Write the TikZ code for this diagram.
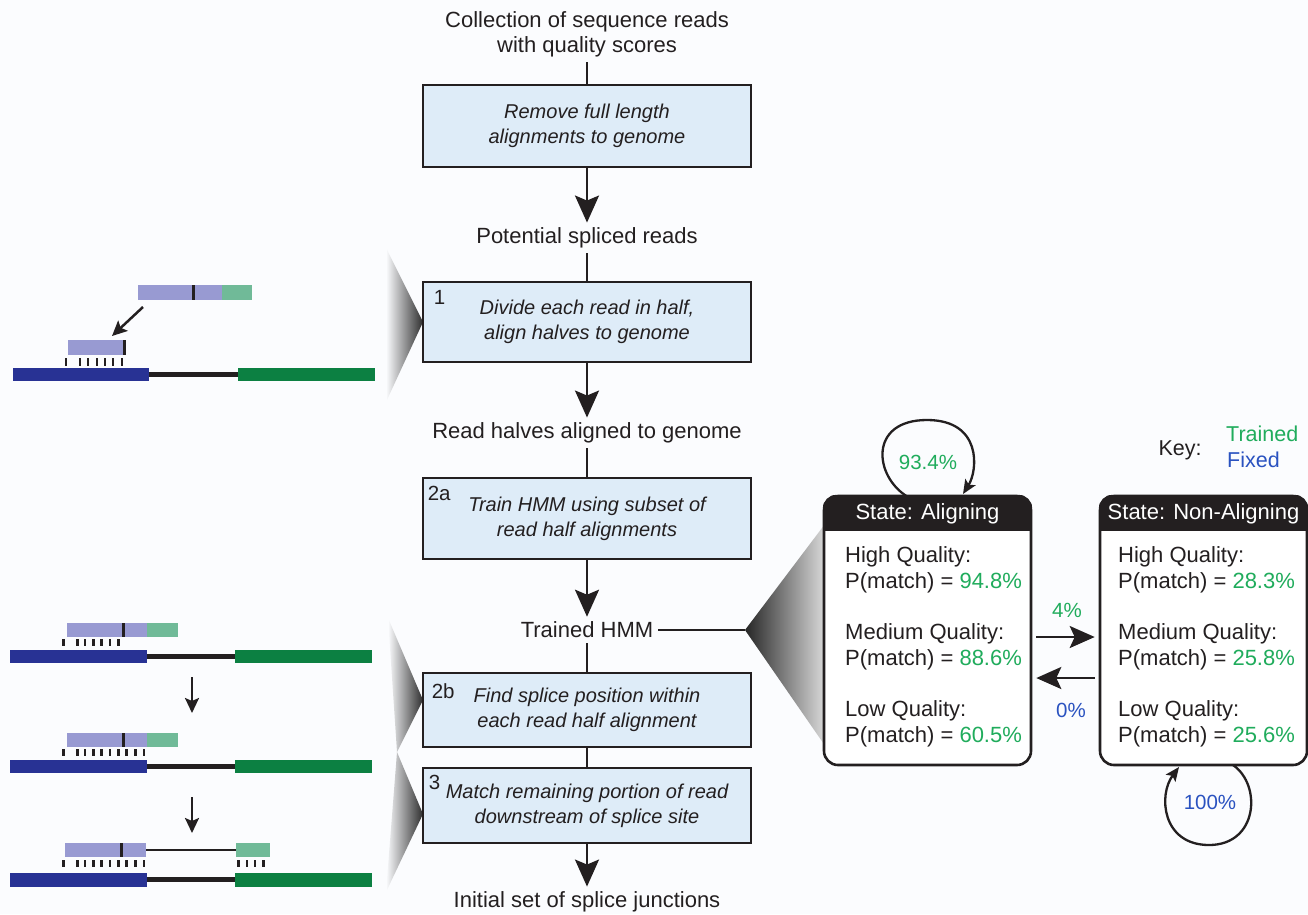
\documentclass[tikz,border=0pt]{standalone}
\usepackage{fontspec}
\setmainfont{Liberation Sans}
\usetikzlibrary{arrows.meta,calc}
\definecolor{bg}{RGB}{251,252,254}
\definecolor{ink}{RGB}{35,31,32}
\definecolor{boxfill}{RGB}{222,236,248}
\definecolor{trained}{RGB}{32,172,92}
\definecolor{fixed}{RGB}{42,82,192}
\definecolor{lilac}{RGB}{152,154,210}
\definecolor{tealread}{RGB}{112,186,152}
\definecolor{gblue}{RGB}{40,50,148}
\definecolor{ggreen}{RGB}{12,128,66}
\begin{document}
\begin{tikzpicture}[x=1pt,y=-1pt,
  every node/.style={text=ink},
  flowtxt/.style={font=\fontsize{22}{25}\selectfont, align=center, inner sep=5pt},
  stepbox/.style={draw=ink, line width=2.8pt, fill=boxfill, minimum width=328pt, align=center, font=\fontsize{20}{25}\selectfont\itshape, inner sep=0pt},
  numlbl/.style={font=\fontsize{20.5}{21}\selectfont, inner sep=0pt, anchor=north west},
  conn/.style={draw=ink, line width=2.5pt},
  arr/.style={conn, -{Stealth[length=27pt,width=24pt,inset=5pt]}},
  tarr/.style={conn, -{Stealth[length=25pt,width=22pt,inset=5pt]}},
  looparr/.style={conn, line width=2.3pt, -{Stealth[length=14pt,width=12pt,inset=3pt]}},
  smallarr/.style={conn, -{Stealth[length=15pt,width=14pt,inset=3pt]}},
  hmmbox/.style={draw=ink, line width=2.6pt, rounded corners=14pt, minimum width=207pt, minimum height=269pt, fill=white, inner sep=0pt},
  hdr/.style={text=white, font=\fontsize{22}{25}\selectfont, inner sep=0pt},
  hmmtxt/.style={font=\fontsize{22}{25.5}\selectfont, align=left, inner sep=0pt, anchor=west},
  pct/.style={font=\fontsize{20.5}{24}\selectfont, inner sep=0pt},
  keytxt/.style={font=\fontsize{21.5}{24}\selectfont, inner sep=0pt}
]
\fill[bg] (0,0) rectangle (1308,914);
\useasboundingbox (0,0) rectangle (1308,914);

% ---------- gray wedges ----------
\shade[left color=bg, right color=black!82] (423,322) -- (386,248) -- (386,402) -- cycle;
\shade[left color=bg, right color=black!82] (423,700) -- (388,618) -- (397,752) -- cycle;
\shade[left color=bg, right color=black!82] (423,814) -- (397,752) -- (386,892) -- cycle;
\coordinate (wtip) at (745,630);
\shade[left color=black!85, right color=white!88!black] (wtip) -- (828,520) -- (828,750) -- cycle;

% ---------- flow chart ----------
\node[flowtxt] (t0) at (587,34.5) {Collection of sequence reads\\with quality scores};
\node[stepbox, minimum height=82pt] (b0) at (587,126) {Remove full length\\alignments to genome};
\node[flowtxt] (t1) at (587,238) {Potential spliced reads};
\node[stepbox, minimum height=80pt] (b1) at (587,322) {Divide each read in half,\\align halves to genome};
\node[flowtxt] (t2) at (587,433) {Read halves aligned to genome};
\node[stepbox, minimum height=81pt] (b2a) at (587,518.5) {Train HMM using subset of\\read half alignments};
\node[flowtxt] (t3) at (587,630) {Trained HMM};
\node[stepbox, minimum height=74pt] (b2b) at (587,710) {Find splice position within\\each read half alignment};
\node[stepbox, minimum height=75pt] (b3) at (587,805.5) {Match remaining portion of read\\downstream of splice site};
\node[flowtxt] (t4) at (587,902) {Initial set of splice junctions};

\node[numlbl] (n1) at ($(b1.north west)+(12,10)$) {1};
\node[numlbl] (n2a) at ($(b2a.north west)+(6,9)$) {2a};
\node[numlbl] (n2b) at ($(b2b.north west)+(10,12)$) {2b};
\node[numlbl] (n3) at ($(b3.north west)+(7,8)$) {3};

\draw[conn] (t0) -- (b0);
\draw[arr] (b0) -- (t1);
\draw[conn] (t1) -- (b1);
\draw[arr] (b1) -- (t2);
\draw[conn] (t2) -- (b2a);
\draw[arr] (b2a) -- (t3);
\draw[conn] (t3) -- (b2b);
\draw[conn] (b2b) -- (b3);
\draw[arr] (b3) -- (t4);
\draw[conn] (t3) -- (wtip);

% ---------- HMM states ----------
\node[hmmbox] (al) at (927.5,630.5) {};
\node[hmmbox] (na) at (1203.5,630.5) {};
\begin{scope}
  \clip[rounded corners=14pt] (al.north west) rectangle (al.south east);
  \fill[ink] (al.north west) rectangle ($(al.north east)+(0,36)$);
\end{scope}
\begin{scope}
  \clip[rounded corners=14pt] (na.north west) rectangle (na.south east);
  \fill[ink] (na.north west) rectangle ($(na.north east)+(0,36)$);
\end{scope}
\node[hdr] (alh) at ($(al.north)+(0,19)$) {State: Aligning};
\node[hdr] (nah) at ($(na.north)+(0,19)$) {State: Non-Aligning};

\node[hmmtxt] (alc) at (845,647) {High Quality:\\P(match) = \textcolor{trained}{94.8\%}\\[26pt]Medium Quality:\\P(match) = \textcolor{trained}{88.6\%}\\[26pt]Low Quality:\\P(match) = \textcolor{trained}{60.5\%}};
\node[hmmtxt] (nac) at (1118,647) {High Quality:\\P(match) = \textcolor{trained}{28.3\%}\\[26pt]Medium Quality:\\P(match) = \textcolor{trained}{25.8\%}\\[26pt]Low Quality:\\P(match) = \textcolor{trained}{25.6\%}};

% self loops
\coordinate (l1s) at (908,497);
\coordinate (l1e) at (963,494);
\draw[looparr] (l1s) .. controls (874,477) and (868,420) .. (927,420) .. controls (982,420) and (978,470) .. (l1e);
\node[pct, text=trained] (p934) at (928,462) {93.4\%};
\coordinate (l2s) at (1233,765);
\coordinate (l2e) at (1179,767);
\draw[looparr] (l2s) .. controls (1262,785) and (1258,845) .. (1209,845) .. controls (1162,845) and (1158,795) .. (l2e);
\node[pct, text=fixed] (p100) at (1210,802) {100\%};

% transitions
\draw[tarr] ($(al.east)+(4,6.5)$) -- ($(na.west)+(-4,6.5)$);
\draw[tarr] ($(na.west)+(-4,47.5)$) -- ($(al.east)+(4,47.5)$);
\node[pct, text=trained] (p4) at (1067,610) {4\%};
\node[pct, text=fixed] (p0) at (1071,710) {0\%};

% key
\node[keytxt] (key) at (1180,450) {Key:};
\node[keytxt, anchor=west, text=trained] (ktr) at (1226,434) {Trained};
\node[keytxt, anchor=west, text=fixed] (kfx) at (1227,460) {Fixed};

% ---------- left illustrations ----------
% top
\fill[lilac] (138,285) rectangle (222,300);
\fill[tealread] (222,285) rectangle (252,300);
\fill[ink] (191.5,285) rectangle (194.5,300);
\draw[smallarr] (143,307) -- (112,336);
\fill[lilac] (68,340) rectangle (126,355);
\fill[ink] (123,340) rectangle (126,355);
\foreach \x in {66,80,88,97,105,113,122} \fill[ink] (\x-1.4,358) rectangle (\x+1.4,366);
\fill[gblue] (13,368) rectangle (149,381);
\fill[ink] (149,372) rectangle (238,377);
\fill[ggreen] (238,368) rectangle (375,381);

% row 1
\fill[lilac] (67,623) rectangle (147,637);
\fill[tealread] (147,623) rectangle (178,637);
\fill[ink] (121.5,623) rectangle (124.5,637);
\foreach \x in {63.3,77.3,85,93.3,101.7,110,118.3} \fill[ink] (\x-1.4,639) rectangle (\x+1.4,646);
\fill[gblue] (10,650) rectangle (147,663);
\fill[ink] (147,654) rectangle (235,659);
\fill[ggreen] (235,650) rectangle (372,663);
\draw[smallarr] (192,677) -- (192,713);

% row 2
\fill[lilac] (67,733) rectangle (147,747);
\fill[tealread] (147,733) rectangle (178,747);
\fill[ink] (121.5,733) rectangle (124.5,747);
\foreach \x in {63.3,77.3,85,93.3,101.7,110,118.3,126.7,135.3,144} \fill[ink] (\x-1.4,749) rectangle (\x+1.4,756);
\fill[gblue] (10,760) rectangle (147,773);
\fill[ink] (147,764) rectangle (235,769);
\fill[ggreen] (235,760) rectangle (372,773);
\draw[smallarr] (192,797) -- (192,833);

% row 3
\fill[lilac] (65,843) rectangle (146,857);
\draw[ink, line width=1.8pt] (146,850) -- (236,850);
\fill[tealread] (236,843) rectangle (270,857);
\fill[ink] (119.5,843) rectangle (122.5,857);
\foreach \x in {63.3,77.3,85,93.3,101.7,110,118.3,126.7,135.3,144,238.5,247,255,263.3} \fill[ink] (\x-1.4,860) rectangle (\x+1.4,867);
\fill[gblue] (10,873) rectangle (147,887);
\fill[ink] (147,877) rectangle (235,882);
\fill[ggreen] (235,873) rectangle (372,887);
\end{tikzpicture}
\end{document}
